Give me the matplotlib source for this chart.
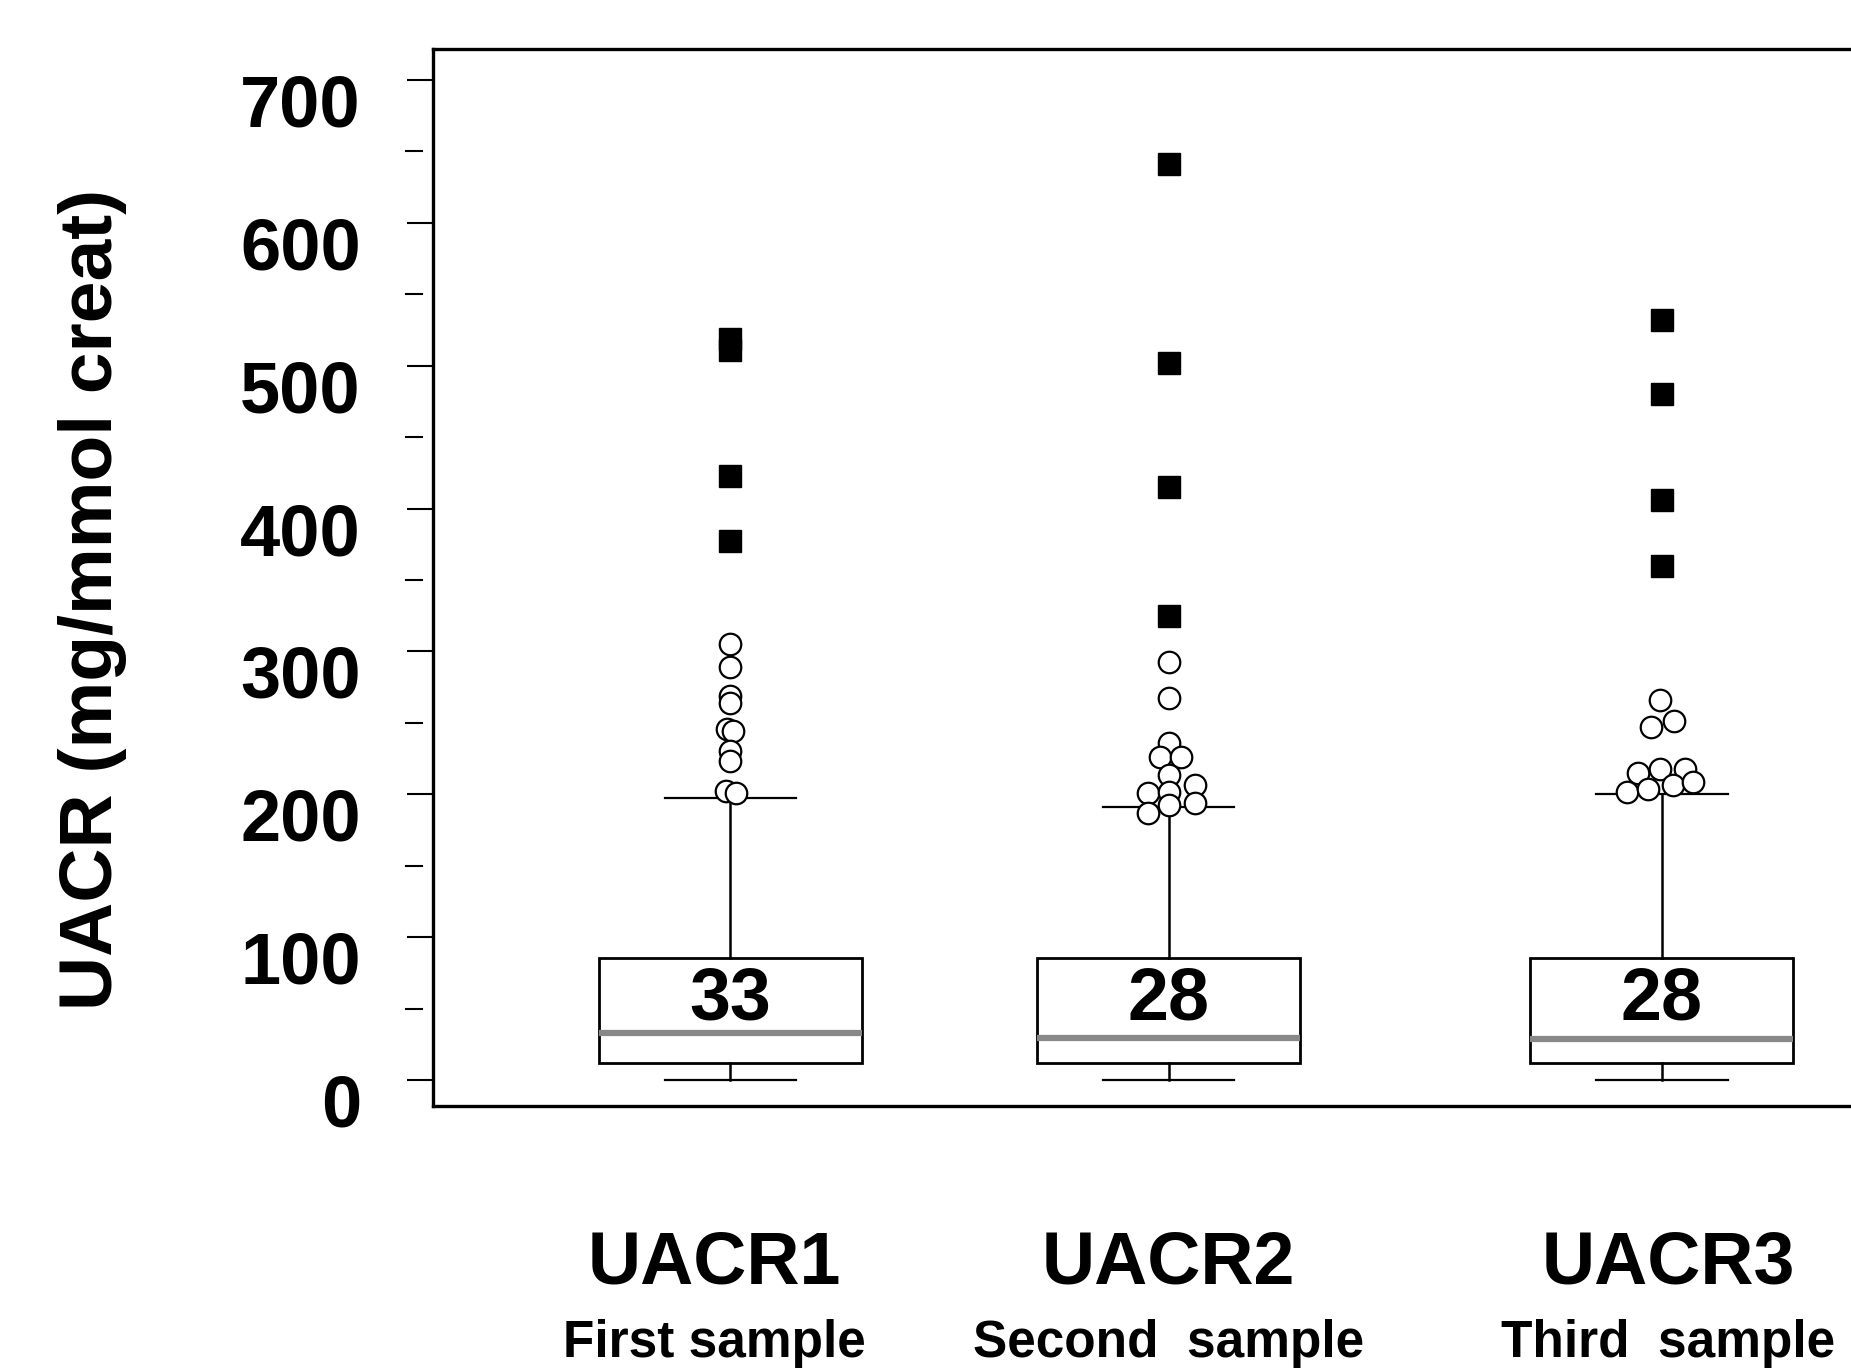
import matplotlib
matplotlib.use("Agg")
import matplotlib.pyplot as plt
import matplotlib.transforms as mtransforms

plt.rcParams["font.family"] = ["Liberation Sans", "DejaVu Sans"]
plt.rcParams["font.weight"] = "bold"

# --- data ------------------------------------------------------------------
groups = ["UACR1", "UACR2", "UACR3"]
subtitles = ["First sample", "Second  sample", "Third  sample"]
median_labels = ["33", "28", "28"]

q1 = [11.7, 11.7, 11.7]
q3 = [85.2, 85.2, 85.2]
medians = [32.7, 29.5, 28.5]
whisk_lo = [0.0, 0.0, 0.0]
whisk_hi = [197.6, 190.9, 200.0]

# open-circle outliers (value, horizontal spread as drawn)
circles_1 = [305, 289, 269, 264, 246, 244, 230, 223, 202, 201]
circles_1_dx = [0, 0, 0, 0, -0.007, 0.007, 0, 0, -0.011, 0.014]
circles_2 = [292.8, 267.2, 235.7, 226.3, 226.3, 213.5, 200.7, 201.8, 206.5,
             186.7, 192.5, 193.7]
circles_2_dx = [0, 0, 0, -0.021, 0.029, 0, -0.047, 0, 0.059, -0.047, 0, 0.059]
circles_3 = [266, 246.9, 251.5, 214.7, 217.5, 217.5, 201.8, 203.5, 206.5, 208.8]
circles_3_dx = [-0.005, -0.025, 0.027, -0.055, -0.005, 0.052, -0.08, -0.032,
                0.025, 0.071]

# extreme outliers (filled squares)
squares_1 = [519, 511, 423, 377]
squares_2 = [641, 502, 415, 325]
squares_3 = [532, 480, 406, 360]

circles = [circles_1, circles_2, circles_3]
circles_dx = [circles_1_dx, circles_2_dx, circles_3_dx]
squares = [squares_1, squares_2, squares_3]

# --- layout ------------------------------------------------------------------
positions = [1.0, 2.0, 3.125]
label_x = [0.963, 2.0, 3.139]
W, H = 1851, 1369

fig = plt.figure(figsize=(W / 100, H / 100), dpi=100)
ax = fig.add_axes([432.7 / W, 1 - 1105.7 / H, 1 - 432.7 / W, (1105.7 - 49) / H])

stats = []
for i in range(3):
    stats.append(dict(med=medians[i], q1=q1[i], q3=q3[i],
                      whislo=whisk_lo[i], whishi=whisk_hi[i], fliers=[]))

ax.bxp(stats, positions=positions, widths=0.6, capwidths=0.3,
       showfliers=False, patch_artist=True,
       boxprops=dict(facecolor="white", edgecolor="black", linewidth=2.0),
       medianprops=dict(color="#888888", linewidth=4.5, solid_capstyle="butt"),
       whiskerprops=dict(color="black", linewidth=1.8),
       capprops=dict(color="black", linewidth=1.6))

for i, x in enumerate(positions):
    xs = [x + d for d in circles_dx[i]]
    ax.plot(xs, circles[i], "o", ms=15.5, mfc="white", mec="black",
            mew=1.6, zorder=4, clip_on=False)
    ax.plot([x] * len(squares[i]), squares[i], "s", ms=15.5, mfc="black",
            mec="black", mew=1.0, zorder=4)
    ax.text(x, 42, median_labels[i], ha="center", va="baseline",
            fontsize=53, fontweight="bold", zorder=5)

ax.set_xlim(0.321, 1 + (W - 730.3) / 438.4)
ax.set_ylim(-18, 721.7)

ax.set_xticks([])
ax.set_yticks(range(0, 701, 100))
ax.set_yticklabels([str(v) for v in range(0, 701, 100)],
                   fontsize=52, fontweight="bold")
ax.tick_params(axis="y", length=18.7, width=1.5, pad=33)
shift = mtransforms.ScaledTranslation(0, -20 / 100, fig.dpi_scale_trans)
for lab in ax.get_yticklabels():
    lab.set_transform(lab.get_transform() + shift)

# minor ticks are drawn detached from the spine in the original
trans = mtransforms.blended_transform_factory(ax.transAxes, ax.transData)
for v in range(50, 701, 100):
    ax.plot([-0.0188, -0.0078], [v, v], color="black", lw=1.5,
            transform=trans, clip_on=False)

for side in ["left", "top", "bottom"]:
    ax.spines[side].set_linewidth(2.4)
ax.spines["right"].set_visible(False)

fig.text(93 / W, 1 - 599 / H, "UACR (mg/mmol creat)", rotation=90,
         ha="center", va="center", fontsize=54, fontweight="bold")

xtrans = mtransforms.blended_transform_factory(ax.transData, fig.transFigure)
for i, x in enumerate(label_x):
    ax.text(x, 1 - 1264 / H, groups[i], transform=xtrans, ha="center",
            va="center", fontsize=53, fontweight="bold", clip_on=False)
    ax.text(x, 1 - 1343 / H, subtitles[i], transform=xtrans, ha="center",
            va="center", fontsize=37, fontweight="bold", clip_on=False)

fig.savefig("out.png", dpi=100)
